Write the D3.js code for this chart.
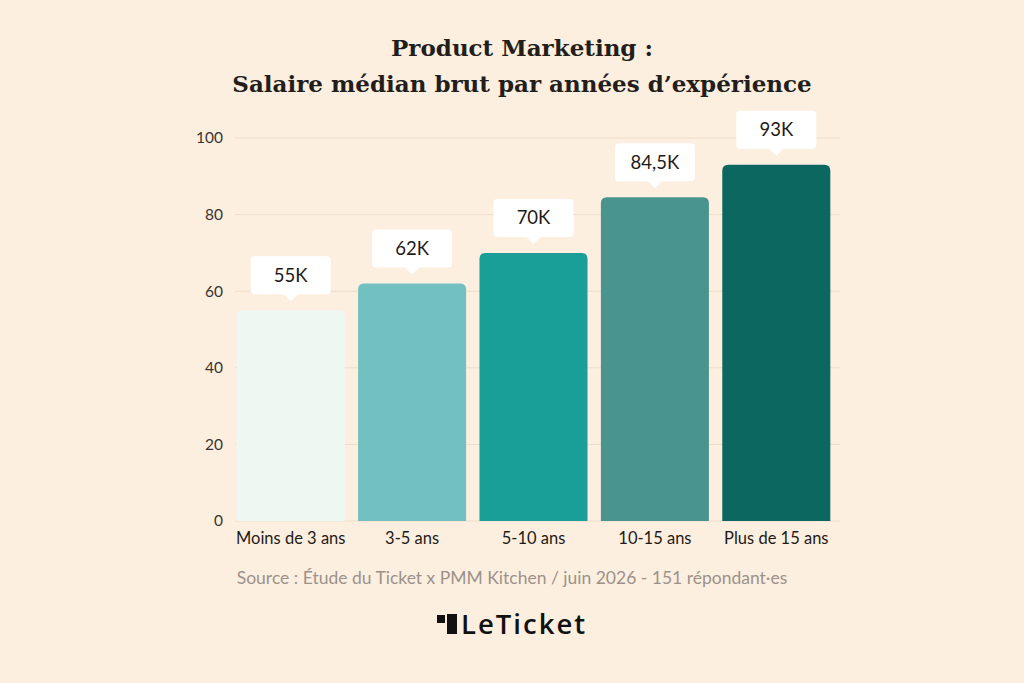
<!DOCTYPE html>
<html><head><meta charset="utf-8">
<script src="https://cdn.jsdelivr.net/npm/d3@7"></script>
<style>
html,body{margin:0;padding:0;background:#fcefe0;}
svg{display:block;}
</style></head>
<body>
<svg id="chart" width="1024" height="683"></svg>
<script>
const categories = ["Moins de 3 ans","3-5 ans","5-10 ans","10-15 ans","Plus de 15 ans"];
const values = [55, 62, 70, 84.5, 93];
const valueLabels = ["55K","62K","70K","84,5K","93K"];
const barColors = ["#eef8f3","#72c1c0","#1a9e98","#4a948f","#0b6760"];
const yTicks = [0,20,40,60,80,100];
const titleLines = ["Product Marketing :","Salaire médian brut par années d’expérience"];
const sourceText = "Source : Étude du Ticket x PMM Kitchen / juin 2026 - 151 répondant·es";
const brand = "LeTicket";

const svg = d3.select("#chart");
svg.append("rect").attr("width",1024).attr("height",683).attr("fill","#fcefe0");

const sans = "Lato, 'Open Sans', sans-serif";
const x = d3.scaleBand().domain(categories).range([230,837]).paddingInner(0.11).paddingOuter(0.055);
const y = d3.scaleLinear().domain([0,100]).range([521,138]);

// title
svg.append("g").selectAll("text").data(titleLines).join("text")
  .attr("x",522).attr("y",(d,i)=>56+i*36)
  .attr("text-anchor","middle")
  .attr("font-family","'DejaVu Serif', serif")
  .attr("font-weight","bold").attr("font-size",23).attr("fill","#231e1b")
  .text(d=>d);

// grid
const grid = svg.append("g");
grid.selectAll("line").data(yTicks).join("line")
  .attr("x1",235).attr("x2",840)
  .attr("y1",d=>y(d)).attr("y2",d=>y(d))
  .attr("stroke","#eddcc9").attr("stroke-width",1);

// y axis
const yAxis = svg.append("g").attr("transform","translate(223,0)")
  .call(d3.axisLeft(y).tickValues(yTicks).tickSize(0).tickPadding(0));
yAxis.select(".domain").remove();
yAxis.selectAll("text").attr("font-family",sans).attr("font-size",15.5).attr("fill","#3a3330");

// bars with rounded top corners
const r = 6;
function barPath(d,i){
  const x0 = x(categories[i]), w = x.bandwidth();
  const y0 = y(d), yb = y(0);
  return `M${x0},${yb}V${y0+r}Q${x0},${y0} ${x0+r},${y0}H${x0+w-r}Q${x0+w},${y0} ${x0+w},${y0+r}V${yb}Z`;
}
svg.append("g").selectAll("path").data(values).join("path")
  .attr("d",barPath).attr("fill",(d,i)=>barColors[i]);

// x axis
const xAxis = svg.append("g").attr("transform","translate(0,528)")
  .call(d3.axisBottom(x).tickSize(0).tickPadding(4));
xAxis.select(".domain").remove();
xAxis.selectAll("text").attr("font-family",sans).attr("font-size",16.5).attr("fill","#1f1a17");

// callouts
const bw = 80, bh = 38, gap = 16, tail = 7;
const call = svg.append("g").selectAll("g").data(values).join("g")
  .attr("transform",(d,i)=>`translate(${x(categories[i])+x.bandwidth()/2},${y(d)-gap})`);
call.append("path")
  .attr("d",`M${-bw/2+4},${-bh}H${bw/2-4}Q${bw/2},${-bh} ${bw/2},${-bh+4}V-4Q${bw/2},0 ${bw/2-4},0H7L0,${tail}L-7,0H${-bw/2+4}Q${-bw/2},0 ${-bw/2},-4V${-bh+4}Q${-bw/2},${-bh} ${-bw/2+4},${-bh}Z`)
  .attr("fill","#ffffff");
call.append("text").attr("y",-bh/2+6.5).attr("text-anchor","middle")
  .attr("font-family",sans).attr("font-size",18.5).attr("fill","#1f1a17")
  .text((d,i)=>valueLabels[i]);

// source
svg.append("text").attr("x",512).attr("y",584).attr("text-anchor","middle")
  .attr("font-family",sans).attr("font-size",17.5).attr("fill","#9c928a").text(sourceText);

// logo
const logo = svg.append("g");
logo.append("rect").attr("x",437).attr("y",615).attr("width",8).attr("height",8).attr("fill","#111");
logo.append("rect").attr("x",447).attr("y",614).attr("width",10).attr("height",20).attr("fill","#111");
logo.append("text").attr("x",461).attr("y",634).attr("font-family","'Open Sans', sans-serif")
  .attr("font-weight",600).attr("font-size",27.5).attr("fill","#111").attr("letter-spacing",2).text(brand);
</script>
</body></html>
